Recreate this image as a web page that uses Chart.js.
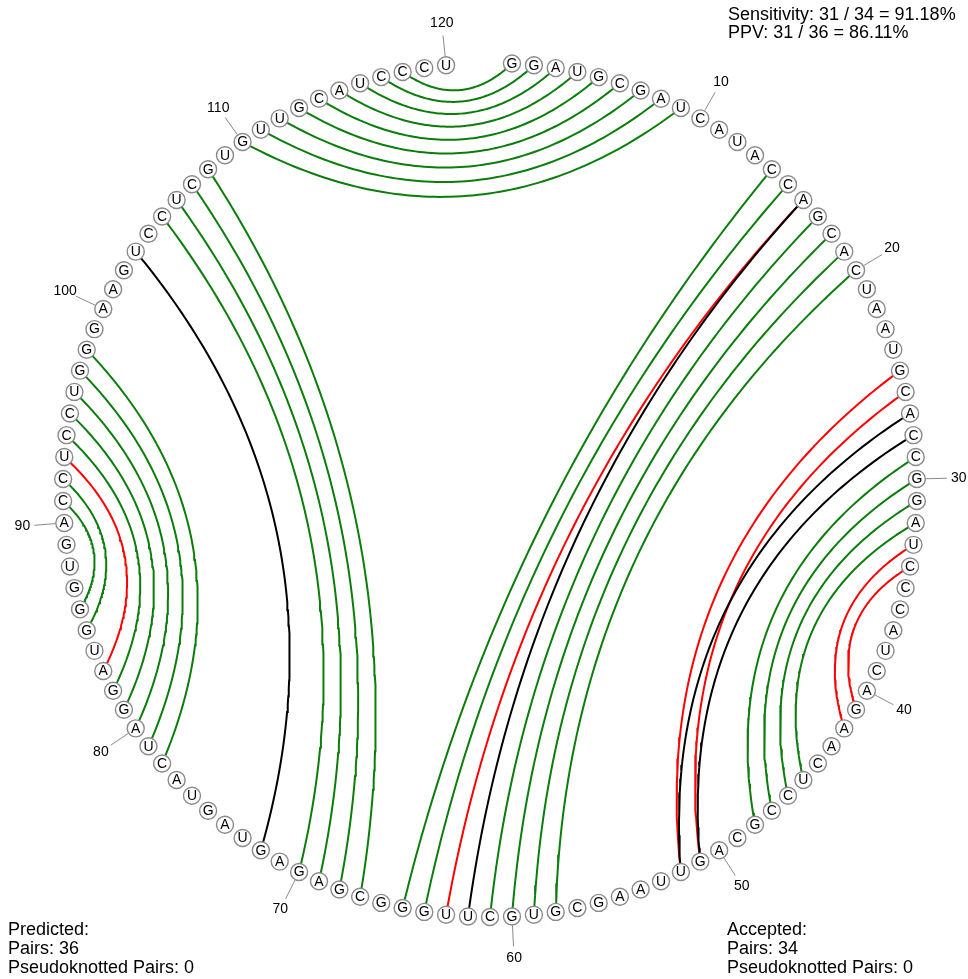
<!DOCTYPE html>
<html>
<head>
<meta charset="utf-8">
<script src="https://cdn.jsdelivr.net/npm/chart.js@4/dist/chart.umd.min.js"></script>
<style>
  html, body { margin: 0; padding: 0; background: #ffffff; }
  #wrap { width: 968px; height: 979px; position: relative; }
</style>
</head>
<body>
<div id="wrap"><canvas id="c"></canvas></div>
<script>
// ---------------- DATA ----------------
const sequence = ("GGAUGCGAUC" + "AUACCAGCAC" + "UAAUGCACCG" + "GAUCCCAUCA" +
                  "GAACUCCGCA" + "GUUAAGCGUG" + "CUUGGGCGAG" + "AGUAGUACUA" +
                  "GGAUGGGUGA" + "CCUCCUGGGA" + "AGUCCUCGUG" + "UUGCAUCCCU").split("");

const tickLabels = [10, 20, 30, 40, 50, 60, 70, 80, 90, 100, 110, 120];

// pairs in both predicted and accepted structures
const greenPairs = [
  [1,118],[2,117],[3,116],[4,115],[5,114],[6,113],[7,112],[8,111],[9,110],
  [14,65],[15,64],[17,61],[18,60],[19,59],[20,58],
  [29,48],[30,47],[31,46],[32,45],
  [67,108],[68,107],[69,106],[70,105],
  [78,98],[79,97],[80,96],[81,95],[82,94],[85,92],[86,91]
];
// predicted only
const redPairs = [[16,63],[25,52],[26,51],[33,42],[34,41],[83,93]];
// accepted only
const blackPairs = [[16,62],[27,52],[28,51],[72,103]];

const scoreLines = ["Sensitivity: 31 / 34 = 91.18%", "PPV: 31 / 36 = 86.11%"];
const predictedLines = ["Predicted:", "Pairs: 36", "Pseudoknotted Pairs: 0"];
const acceptedLines = ["Accepted:", "Pairs: 34", "Pseudoknotted Pairs: 0"];

// ---------------- LAYOUT ----------------
const CX = 490, CY = 490, R = 427;
const SLOTS = sequence.length + 2;
const COLORS = { green: "#0b7d0b", red: "#ff0000", black: "#000000" };

function angleOf(i) { return i * 2 * Math.PI / SLOTS; }
function posOf(i, rad) {
  const a = angleOf(i), r = rad === undefined ? R : rad;
  return { x: CX + r * Math.sin(a), y: CY - r * Math.cos(a) };
}
function arcPoints(i, j) {
  const a = posOf(i), b = posOf(j);
  const mx = (a.x + b.x) / 2, my = (a.y + b.y) / 2;
  const dx = mx - CX, dy = my - CY, dm = Math.hypot(dx, dy);
  const sinA = Math.hypot(a.x - b.x, a.y - b.y) / 2 / R;
  const alphaDeg = Math.asin(Math.min(1, sinA)) * 180 / Math.PI;
  const bow = 0.87 + 0.13 * Math.min(1, alphaDeg / 75);
  const dc = Math.max(0, R * (1 - bow * sinA));
  let qx = CX, qy = CY;
  if (dm > 1e-6) { qx = CX + dx / dm * dc; qy = CY + dy / dm * dc; }
  const pts = [];
  const n = 80;
  for (let k = 0; k <= n; k++) {
    const t = k / n, u = 1 - t;
    pts.push({ x: u*u*a.x + 2*u*t*qx + t*t*b.x, y: u*u*a.y + 2*u*t*qy + t*t*b.y });
  }
  return pts;
}

function arcDatasets(pairs, color) {
  return pairs.map(p => ({
    type: 'line',
    data: arcPoints(p[0], p[1]),
    borderColor: color,
    borderWidth: 2,
    pointRadius: 0,
    showLine: true,
    fill: false,
    tension: 0,
    parsing: false
  }));
}

const nucleotideDataset = {
  type: 'scatter',
  data: sequence.map((s, k) => posOf(k + 1)),
  pointRadius: 8.5,
  pointBackgroundColor: "#ffffff",
  pointBorderColor: "#8a8a8a",
  pointBorderWidth: 1.4,
  pointStyle: 'circle'
};

const textPlugin = {
  id: 'rnaText',
  afterDatasetsDraw(chart) {
    const ctx = chart.ctx;
    const xs = chart.scales.x, ys = chart.scales.y;
    const px = p => ({ x: xs.getPixelForValue(p.x), y: ys.getPixelForValue(p.y) });
    ctx.save();
    // nucleotide letters
    ctx.fillStyle = "#000";
    ctx.font = '14px "Liberation Sans", Arial, sans-serif';
    ctx.textAlign = 'center';
    ctx.textBaseline = 'middle';
    sequence.forEach((s, k) => {
      const p = px(posOf(k + 1));
      ctx.fillText(s, p.x, p.y + 0.5);
    });
    // position ticks and labels
    ctx.strokeStyle = "#8a8a8a";
    ctx.lineWidth = 1;
    ctx.font = '14px "Liberation Sans", Arial, sans-serif';
    tickLabels.forEach(t => {
      const p1 = px(posOf(t, R + 9)), p2 = px(posOf(t, R + 30));
      ctx.beginPath(); ctx.moveTo(p1.x, p1.y); ctx.lineTo(p2.x, p2.y); ctx.stroke();
      const pl = px(posOf(t, R + 42));
      ctx.fillText(String(t), pl.x, pl.y);
    });
    // stats text
    ctx.font = '18px "Liberation Sans", Arial, sans-serif';
    ctx.textAlign = 'left';
    ctx.textBaseline = 'alphabetic';
    scoreLines.forEach((s, k) => ctx.fillText(s, 728, 20 + k * 18));
    predictedLines.forEach((s, k) => ctx.fillText(s, 8, 935 + k * 19));
    acceptedLines.forEach((s, k) => ctx.fillText(s, 727, 935 + k * 19));
    ctx.restore();
  }
};

new Chart(document.getElementById('c'), {
  type: 'scatter',
  data: {
    datasets: [nucleotideDataset]
      .concat(arcDatasets(blackPairs, COLORS.black))
      .concat(arcDatasets(redPairs, COLORS.red))
      .concat(arcDatasets(greenPairs, COLORS.green))
  },
  options: {
    responsive: true,
    maintainAspectRatio: false,
    animation: false,
    events: [],
    layout: { padding: 0, autoPadding: false },
    plugins: { legend: { display: false }, tooltip: { enabled: false }, title: { display: false } },
    scales: {
      x: { type: 'linear', min: 0, max: 968, display: false },
      y: { type: 'linear', min: 0, max: 979, reverse: true, display: false }
    }
  },
  plugins: [textPlugin]
});
</script>
</body>
</html>
